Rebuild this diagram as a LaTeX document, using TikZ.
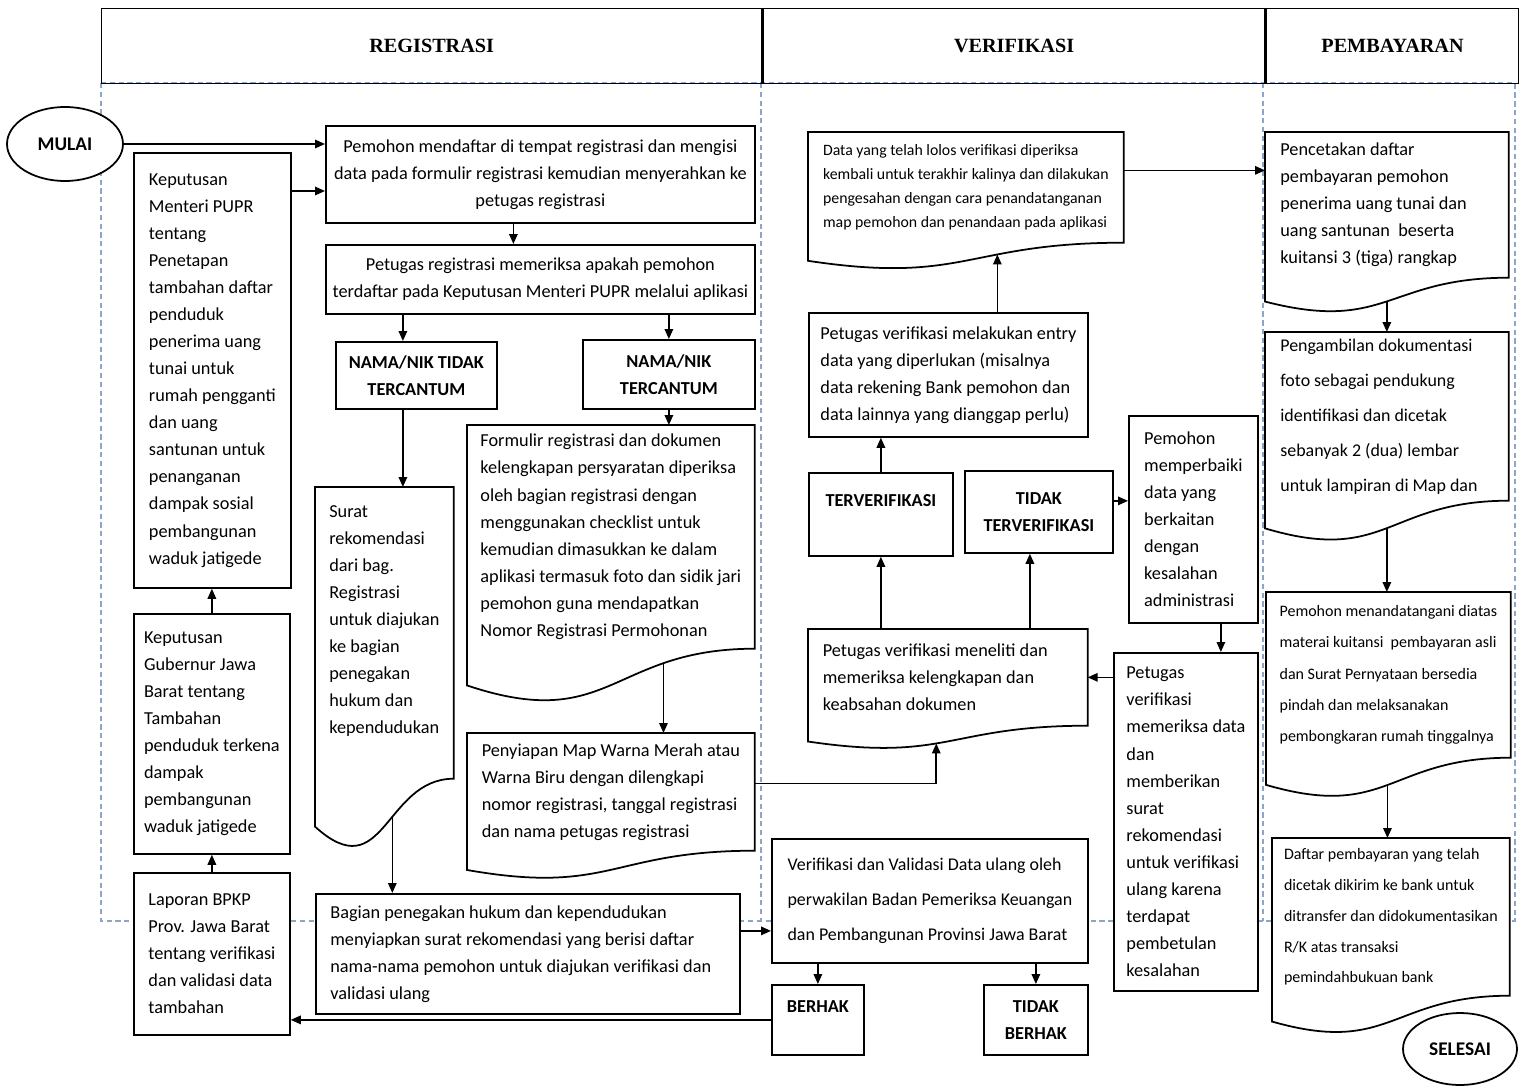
\documentclass[tikz,border=0pt]{standalone}
\usepackage{fontspec}
\setmainfont{Carlito}
\newfontfamily\headfont{Liberation Serif}
\usetikzlibrary{arrows.meta,calc,shapes.geometric}
\pgfdeclarelayer{back}
\pgfdeclarelayer{docs}
\pgfsetlayers{back,docs,main}
\definecolor{laneblue}{RGB}{140,165,200}
\newcommand\txt{\fontsize{10.4}{15.4}\selectfont}
\newcommand\smalltxt{\fontsize{9}{13.7}\selectfont}
\tikzset{
  box/.style={draw, fill=white, line width=1pt, anchor=north west, inner sep=2pt, font=\txt},
  lbox/.style={box, align=flush left},
  cbox/.style={box, align=center},
  doc/.style={anchor=north west, inner sep=2pt, align=flush left, font=\txt},
  tag/.style={box, align=center, font=\txt\bfseries},
  term/.style={ellipse, draw, fill=white, line width=1pt, inner sep=0pt, font=\fontsize{11}{13}\selectfont\bfseries},
  headcell/.style={draw, line width=0.8pt, anchor=north west, inner sep=0pt, font=\headfont\fontsize{11.5}{14}\selectfont\bfseries},
  arr/.style={line width=0.9pt, -{Triangle[length=2mm,width=1.7mm]}},
  docline/.style={draw, fill=white, line width=1pt},
  lane/.style={dash pattern=on 3pt off 2pt, line width=0.6pt, color=laneblue},
  sz/.style 2 args={minimum width=#1cm, minimum height=#2cm},
}
\newcommand\docshape[3]{%
  \begin{pgfonlayer}{docs}
  \draw[docline] (#1.north west) -- (#1.north east) -- (#1.south east)
    .. controls (#1.south) and ($(#1.south)+(0,-0.381*#2)$) .. ($(#1.south west)+(0,-0.1646*#2)$)
    coordinate[pos=#3] (#1-w) -- cycle;
  \end{pgfonlayer}}
\begin{document}
\begin{tikzpicture}
\useasboundingbox (0,0) rectangle (30.6,-21.74);
\begin{pgfonlayer}{back}
\draw[lane] (2.02,-1.66) rectangle (30.3,-18.42);
\draw[lane] (15.22,-1.66) -- (15.22,-18.42);
\draw[lane] (25.26,-1.66) -- (25.26,-18.42);
\end{pgfonlayer}

\node[headcell, sz={13.2}{1.5}] (hreg) at (2.02,-0.16) {REGISTRASI};
\node[headcell, sz={10.04}{1.5}] (hver) at (hreg.north east) {VERIFIKASI};
\node[headcell, sz={5.04}{1.5}] (hpem) at (hver.north east) {PEMBAYARAN};

\node[term, sz={2.32}{1.48}] (mulai) at (1.3,-2.88) {MULAI};
\node[lbox, sz={3.14}{8.7}] (kepmen) at (2.66,-3.04) {Keputusan\\Menteri PUPR\\tentang\\Penetapan\\tambahan daftar\\penduduk\\penerima uang\\tunai untuk\\rumah pengganti\\dan uang\\santunan untuk\\penanganan\\dampak sosial\\pembangunan\\waduk jatigede};
\node[lbox, sz={3.12}{4.8}] (gub) at (2.66,-12.26) {Keputusan\\Gubernur Jawa\\Barat tentang\\Tambahan\\penduduk terkena\\dampak\\pembangunan\\waduk jatigede};
\node[lbox, sz={3.12}{3.24}] (lap) at (2.66,-17.44) {Laporan BPKP\\Prov. Jawa Barat\\tentang verifikasi\\dan validasi data\\tambahan};

\node[cbox, sz={8.58}{1.94}] (p1) at (6.5,-2.5) {Pemohon mendaftar di tempat registrasi dan mengisi\\data pada formulir registrasi kemudian menyerahkan ke\\petugas registrasi};
\node[cbox, sz={8.58}{1.38}] (p2) at (6.5,-4.88) {Petugas registrasi memeriksa apakah pemohon\\terdaftar pada Keputusan Menteri PUPR melalui aplikasi};
\node[tag, sz={3.22}{1.34}] (nt) at (6.7,-6.82) {NAMA/NIK TIDAK\\TERCANTUM};
\node[tag, sz={3.44}{1.38}] (t) at (11.64,-6.78) {NAMA/NIK\\TERCANTUM};
\node[doc, sz={5.74}{4.46}] (f) at (9.34,-8.5) {Formulir registrasi dan dokumen\\kelengkapan persyaratan diperiksa\\oleh bagian registrasi dengan\\menggunakan checklist untuk\\kemudian dimasukkan ke dalam\\aplikasi termasuk foto dan sidik jari\\pemohon guna mendapatkan\\Nomor Registrasi Permohonan};
\docshape{f}{4.46}{0.272}
\node[doc, sz={2.76}{5.82}] (s) at (6.3,-9.74) {Surat\\rekomendasi\\dari bag.\\Registrasi\\untuk diajukan\\ke bagian\\penegakan\\hukum dan\\kependudukan\\\mbox{}};
\docshape{s}{5.82}{0.424}
\node[doc, sz={5.74}{2.34}] (g) at (9.34,-14.66) {Penyiapan Map Warna Merah atau\\Warna Biru dengan dilengkapi\\nomor registrasi, tanggal registrasi\\dan nama petugas registrasi};
\docshape{g}{2.34}{0.5}
\node[lbox, sz={8.48}{2.4}, text width=7.9cm] (b) at (6.3,-17.86) {Bagian penegakan hukum dan kependudukan\\menyiapkan surat rekomendasi yang berisi daftar\\nama-nama pemohon untuk diajukan verifikasi dan\\validasi ulang};

\node[doc, font=\smalltxt, sz={6.3}{2.2}] (d) at (16.16,-2.64) {Data yang telah lolos verifikasi diperiksa\\kembali untuk terakhir kalinya dan dilakukan\\pengesahan dengan cara penandatanganan\\map pemohon dan penandaan pada aplikasi};
\docshape{d}{2.2}{0.37}
\node[lbox, sz={5.58}{2.48}] (e) at (16.16,-6.24) {Petugas verifikasi melakukan entry\\data yang diperlukan (misalnya\\data rekening Bank pemohon dan\\data lainnya yang dianggap perlu)};
\node[tag, sz={2.88}{1.66}] (tv) at (16.16,-9.44) {TERVERIFIKASI\\\mbox{}};
\node[tag, sz={2.96}{1.64}] (tt) at (19.28,-9.4) {TIDAK\\TERVERIFIKASI};
\node[lbox, sz={2.58}{4.14}] (pm) at (22.56,-8.3) {Pemohon\\memperbaiki\\data yang\\berkaitan\\dengan\\kesalahan\\administrasi};
\node[lbox, sz={2.88}{6.76}] (pv) at (22.26,-13.04) {Petugas\\verifikasi\\memeriksa data\\dan\\memberikan\\surat\\rekomendasi\\untuk verifikasi\\ulang karena\\terdapat\\pembetulan\\kesalahan};
\node[doc, sz={5.58}{1.92}, text width=5cm] (v1) at (16.16,-12.58) {Petugas verifikasi meneliti dan\\memeriksa kelengkapan dan\\keabsahan dokumen};
\docshape{v1}{1.92}{0.555}
\node[lbox, sz={6.32}{2.48}, font=\fontsize{10.2}{19.9}\selectfont] (vv) at (15.42,-16.76) {Verifikasi dan Validasi Data ulang oleh\\perwakilan Badan Pemeriksa Keuangan\\dan Pembangunan Provinsi Jawa Barat};
\node[tag, sz={1.84}{1.4}] (bh) at (15.42,-19.68) {BERHAK\\\mbox{}};
\node[tag, sz={2.08}{1.4}] (tb) at (19.66,-19.68) {TIDAK\\BERHAK};

\node[doc, sz={4.86}{2.9}, text width=4.26cm] (pc) at (25.3,-2.64) {Pencetakan daftar\\pembayaran pemohon\\penerima uang tunai dan\\uang santunan\ \ beserta\\kuitansi 3 (tiga) rangkap};
\docshape{pc}{2.9}{0.5}
\node[doc, sz={4.86}{3.36}, text width=4.26cm, font=\fontsize{10.2}{19.9}\selectfont] (pa) at (25.3,-6.64) {Pengambilan dokumentasi\\foto sebagai pendukung\\identifikasi dan dicetak\\sebanyak 2 (dua) lembar\\untuk lampiran di Map dan};
\docshape{pa}{3.36}{0.5}
\node[doc, sz={4.88}{3.3}, font=\fontsize{9.1}{17.9}\selectfont] (pt) at (25.32,-11.84) {Pemohon menandatangani diatas\\materai kuitansi\ \ pembayaran asli\\dan Surat Pernyataan bersedia\\pindah dan melaksanakan\\pembongkaran rumah tinggalnya};
\docshape{pt}{3.3}{0.505}
\node[doc, sz={4.74}{3.14}, font=\fontsize{9.1}{17.6}\selectfont] (df) at (25.44,-16.76) {Daftar pembayaran yang telah\\dicetak dikirim ke bank untuk\\ditransfer dan didokumentasikan\\R/K atas transaksi\\pemindahbukuan bank};
\docshape{df}{3.14}{0.5}
\node[term, sz={2.28}{1.44}] (selesai) at (29.2,-20.98) {SELESAI};

\begin{pgfonlayer}{back}
\draw[arr] (mulai.east) -- (mulai.east -| p1.west);
\coordinate (kin) at ([yshift=-0.78cm]kepmen.north east);
\draw[arr] (kin) -- (kin -| p1.west);
\draw[arr] ([xshift=-0.54cm]p1.south) -- ([xshift=-0.54cm]p2.north);
\coordinate (ntin) at ([xshift=-0.27cm]nt.north);
\draw[arr] (ntin |- p2.south) -- (ntin);
\draw[arr] (t.north |- p2.south) -- (t.north);
\coordinate (ntout) at ([xshift=-0.27cm]nt.south);
\draw[arr] (ntout) -- (ntout |- s.north);
\draw[arr] (t.south) -- (t.south |- f.north);
\draw[arr] (f-w) -- (f-w |- g.north);
\draw[arr] (s-w) -- (s-w |- b.north);
\coordinate (gout) at ([yshift=0.17cm]g.east);
\draw[arr] (gout) -| (v1-w);
\coordinate (bout) at ([yshift=0.46cm]b.east);
\draw[arr] (bout) -- (bout -| vv.west);
\draw[arr] (bh.north |- vv.south) -- (bh.north);
\draw[arr] (tb.north |- vv.south) -- (tb.north);
\draw[arr] (bh.west) -- (bh.west -| lap.east);
\draw[arr] (lap.north) -- (lap.north |- gub.south);
\draw[arr] (gub.north) -- (gub.north |- kepmen.south);
\draw[arr] (tv.south |- v1.north) -- (tv.south);
\coordinate (ttin) at ([xshift=-0.18cm]tt.south);
\draw[arr] (ttin |- v1.north) -- (ttin);
\draw[arr] (tv.north) -- (tv.north |- e.south);
\draw[arr] (d-w |- e.north) -- (d-w);
\coordinate (dout) at ([yshift=0.34cm]d.east);
\draw[arr] (dout) -- (dout -| pc.west);
\coordinate (ttout) at ([yshift=0.22cm]tt.east);
\draw[arr] (ttout) -- (ttout -| pm.west);
\coordinate (pmout) at ([xshift=0.55cm]pm.south);
\draw[arr] (pmout) -- (pmout |- pv.north);
\draw[arr] (v1.east -| pv.west) -- (v1.east);
\draw[arr] (pc-w) -- (pc-w |- pa.north);
\draw[arr] (pa-w) -- (pa-w |- pt.north);
\draw[arr] (pt-w) -- (pt-w |- df.north);
\end{pgfonlayer}
\end{tikzpicture}
\end{document}
